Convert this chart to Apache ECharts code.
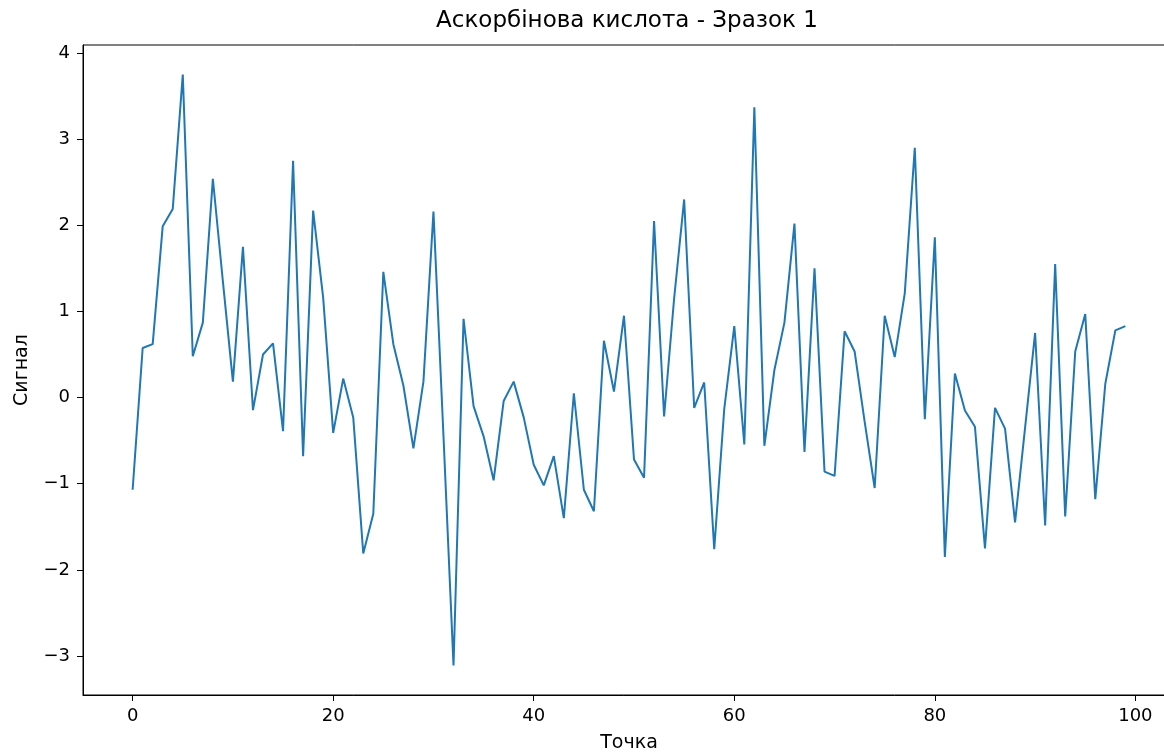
<!DOCTYPE html>
<html>
<head>
<meta charset="utf-8">
<script src="https://cdn.jsdelivr.net/npm/echarts@6/dist/echarts.min.js"></script>
<style>html,body{margin:0;padding:0;background:#fff;overflow:hidden;}#c{width:1164px;height:756px;}</style>
</head>
<body>
<div id="c"></div>
<script>
const titleText = 'Аскорбінова кислота - Зразок 1';
const xName = 'Точка';
const yName = 'Сигнал';
const xTicks = [0, 20, 40, 60, 80, 100];
const yTicks = [-3, -2, -1, 0, 1, 2, 3, 4];
const signal = [
  -1.07, 0.575, 0.62, 1.99, 2.19, 3.75, 0.48, 0.87, 2.54, 1.35,
  0.185, 1.75, -0.146, 0.50, 0.63, -0.39, 2.75, -0.68, 2.17, 1.16,
  -0.41, 0.22, -0.23, -1.81, -1.35, 1.46, 0.62, 0.14, -0.59, 0.185,
  2.16, -0.45, -3.11, 0.915, -0.10, -0.45, -0.96, -0.04, 0.185, -0.23,
  -0.78, -1.02, -0.68, -1.40, 0.05, -1.07, -1.32, 0.66, 0.07, 0.95,
  -0.72, -0.93, 2.05, -0.22, 1.15, 2.30, -0.12, 0.175, -1.76, -0.13,
  0.83, -0.545, 3.37, -0.56, 0.32, 0.87, 2.02, -0.63, 1.50, -0.86,
  -0.91, 0.77, 0.535, -0.28, -1.05, 0.95, 0.47, 1.21, 2.90, -0.25,
  1.86, -1.85, 0.28, -0.15, -0.34, -1.75, -0.12, -0.36, -1.45, -0.35,
  0.75, -1.485, 1.55, -1.38, 0.535, 0.97, -1.18, 0.16, 0.78, 0.83
];
const points = signal.map((v, i) => [i, v]);
const n = signal.length - 1;
const xPad = n * 0.05;
const yMinV = Math.min(...signal), yMaxV = Math.max(...signal);
const yPad = (yMaxV - yMinV) * 0.05;
const fmt = v => (v < 0 ? '\u2212' + Math.abs(v) : String(v));
const font = 'DejaVu Sans';
const gridLeft = 83, gridWidth = 1092, gridTop = 45, gridHeight = 650;
const plotCenter = gridLeft + gridWidth / 2;
const chart = echarts.init(document.getElementById('c'), null, {renderer: 'canvas'});
chart.setOption({
  animation: false,
  backgroundColor: '#fff',
  title: {
    text: titleText, left: plotCenter - 7, textAlign: 'center', top: 5,
    textStyle: {fontFamily: font, fontSize: 23, fontWeight: 'normal', color: '#000'}
  },
  grid: {left: gridLeft, width: gridWidth, top: gridTop, height: gridHeight, show: true, borderColor: '#000', borderWidth: 1, containLabel: false, outerBoundsMode: 'none'},
  xAxis: {
    type: 'value', min: -xPad, max: n + xPad,
    name: xName, nameLocation: 'middle', nameGap: 39,
    nameTextStyle: {fontFamily: font, fontSize: 19, color: '#000'},
    axisLine: {show: true, onZero: false, lineStyle: {color: '#000', width: 1}},
    axisTick: {show: true, customValues: xTicks, length: 6, inside: false, lineStyle: {color: '#000'}},
    axisLabel: {customValues: xTicks, formatter: fmt, margin: 12, fontFamily: font, fontSize: 18, color: '#000'},
    splitLine: {show: false}
  },
  yAxis: {
    type: 'value', min: yMinV - yPad, max: yMaxV + yPad,
    name: yName, nameLocation: 'middle', nameGap: 51, nameRotate: 90,
    nameTextStyle: {fontFamily: font, fontSize: 19, color: '#000'},
    axisLine: {show: true, onZero: false, lineStyle: {color: '#000', width: 1}},
    axisTick: {show: true, customValues: yTicks, length: 6, inside: false, lineStyle: {color: '#000'}},
    axisLabel: {customValues: yTicks, formatter: fmt, margin: 13, fontFamily: font, fontSize: 18, color: '#000'},
    splitLine: {show: false}
  },
  series: [{
    type: 'line', data: points, showSymbol: false, symbol: 'none',
    lineStyle: {color: '#1f77b4', width: 2}, itemStyle: {color: '#1f77b4'}
  }]
});
</script>
</body>
</html>
